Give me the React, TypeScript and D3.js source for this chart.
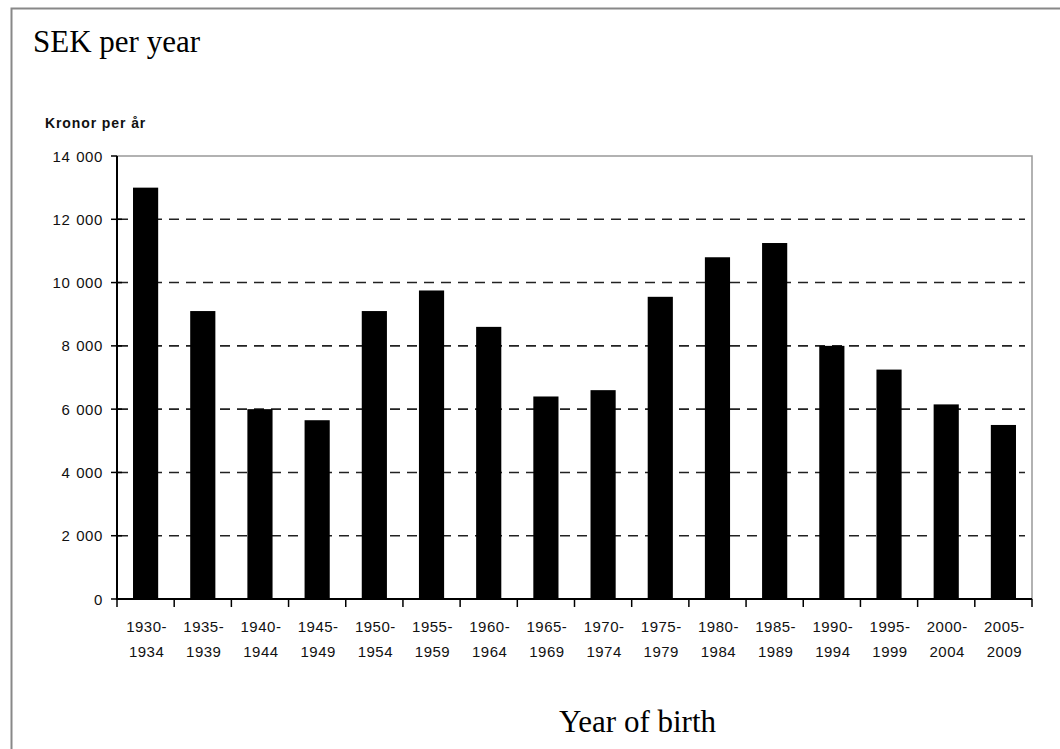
import React from "react";
import * as d3 from "d3";

const categories = [
  ["1930-", "1934"], ["1935-", "1939"], ["1940-", "1944"], ["1945-", "1949"],
  ["1950-", "1954"], ["1955-", "1959"], ["1960-", "1964"], ["1965-", "1969"],
  ["1970-", "1974"], ["1975-", "1979"], ["1980-", "1984"], ["1985-", "1989"],
  ["1990-", "1994"], ["1995-", "1999"], ["2000-", "2004"], ["2005-", "2009"],
];
const values = [13000, 9100, 6000, 5650, 9100, 9750, 8600, 6400, 6600, 9550, 10800, 11250, 8000, 7250, 6150, 5500];
const yTicks = [0, 2000, 4000, 6000, 8000, 10000, 12000, 14000];
const yTickLabels = ["0", "2 000", "4 000", "6 000", "8 000", "10 000", "12 000", "14 000"];
const title = "SEK per year";
const yUnit = "Kronor per år";
const xTitle = "Year of birth";

export default function App() {
  const W = 1060, H = 749;
  const left = 117, right = 1032, top = 156, bottom = 599;
  const x = d3.scaleBand<number>().domain(d3.range(values.length)).range([left, right]).paddingInner(0.56).paddingOuter(0.28);
  const xb = d3.scaleLinear().domain([0, values.length]).range([left, right]);
  const y = d3.scaleLinear().domain([0, 14000]).range([bottom, top]);
  const sans = "'Liberation Sans', Arial, sans-serif";
  const serif = "'Liberation Serif', 'Times New Roman', serif";
  return (
    <svg width={W} height={H} style={{ position: "absolute", left: 0, top: 0, background: "#fff" }}>
      <rect x={0} y={0} width={W} height={H} fill="#fff" />
      <path d={`M11.5,${H} L11.5,8.5 L${W},8.5`} fill="none" stroke="#888" strokeWidth={2} />
      <text x={33} y={52} fontFamily={serif} fontSize={31} fill="#000">{title}</text>
      <text x={45} y={128} fontFamily={sans} fontSize={14} fontWeight="bold" letterSpacing={0.9} fill="#111">{yUnit}</text>
      {yTicks.filter((t) => t > 0 && t < 14000).map((t) => (
        <line key={"g" + t} x1={left + 1} x2={1025} y1={y(t)} y2={y(t)} stroke="#222" strokeWidth={1.6} strokeDasharray="10,7" />
      ))}
      <path d={`M${left},${top} L${right},${top} L${right},${bottom}`} fill="none" stroke="#999" strokeWidth={1.5} />
      {values.map((v, i) => (
        <rect key={"b" + i} x={x(i)} y={y(v)} width={x.bandwidth()} height={y(0) - y(v)} fill="#000" />
      ))}
      <line x1={left} x2={left} y1={top} y2={bottom + 1} stroke="#000" strokeWidth={2} />
      <line x1={left} x2={right} y1={bottom} y2={bottom} stroke="#000" strokeWidth={2} />
      {yTicks.map((t, i) => (
        <g key={"yt" + t}>
          <line x1={111} x2={t === 14000 ? left : 122} y1={y(t)} y2={y(t)} stroke="#000" strokeWidth={1.5} />
          <text x={103} y={y(t) + 5.5} textAnchor="end" fontFamily={sans} fontSize={15} letterSpacing={0.6} wordSpacing={1} fill="#111">{yTickLabels[i]}</text>
        </g>
      ))}
      {d3.range(values.length + 1).map((i) => (
        <line key={"xt" + i} x1={xb(i)} x2={xb(i)} y1={bottom} y2={bottom + 8} stroke="#000" strokeWidth={1.5} />
      ))}
      {categories.map((c, i) => (
        <text key={"xl" + i} textAnchor="middle" fontFamily={sans} fontSize={15} letterSpacing={0.5} fill="#111">
          <tspan x={x(i)! + x.bandwidth() / 2 + 1} y={632}>{c[0]}</tspan>
          <tspan x={x(i)! + x.bandwidth() / 2 + 1} y={657}>{c[1]}</tspan>
        </text>
      ))}
      <text x={(557 + 718) / 2} y={732} textAnchor="middle" fontFamily={serif} fontSize={31} fill="#000">{xTitle}</text>
    </svg>
  );
}
